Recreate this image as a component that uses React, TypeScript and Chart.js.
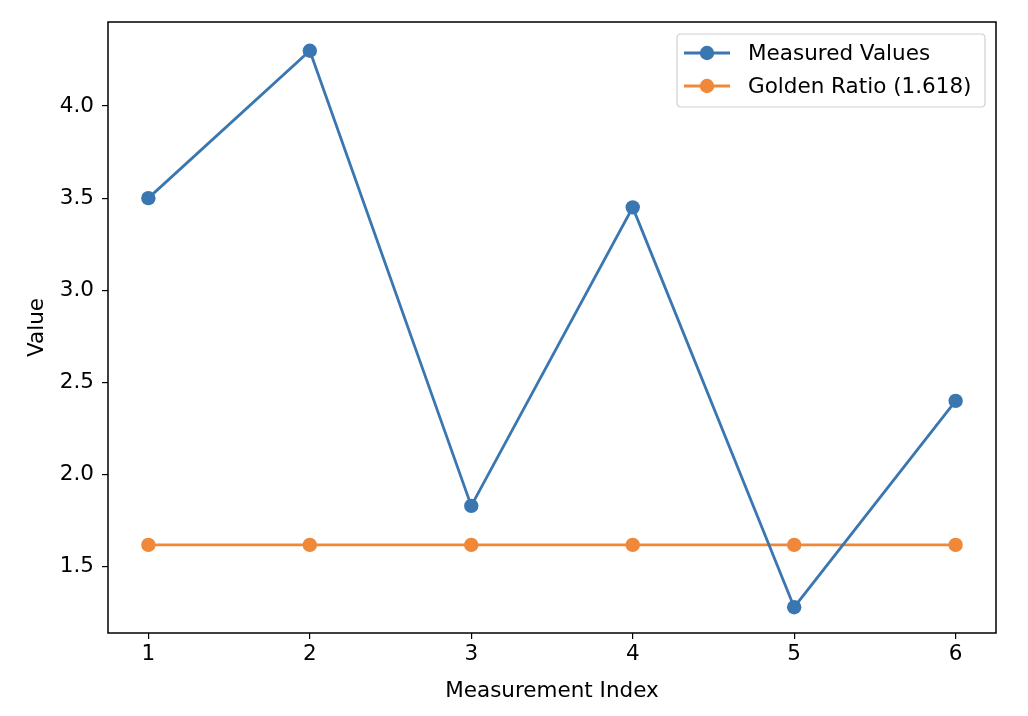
import React, { useEffect, useRef } from "react";
import { Chart, registerables } from "chart.js";

Chart.register(...registerables);

const measurementIndex = [1, 2, 3, 4, 5, 6];
const measuredValues = [3.5, 4.3, 1.83, 3.45, 1.28, 2.4];
const goldenRatio = [1.618, 1.618, 1.618, 1.618, 1.618, 1.618];
const yTicks = [1.5, 2.0, 2.5, 3.0, 3.5, 4.0];
const seriesLabels = ["Measured Values", "Golden Ratio (1.618)"];
const seriesColors = ["#3a77b1", "#ef8839"];

const FONT = "'DejaVu Sans', sans-serif";
const FS = 21.5;
const MR = 7.2;
const LW = 2.8;

const framePlugin = {
  id: "frame",
  afterDraw(chart: any) {
    const { ctx, chartArea } = chart;
    ctx.save();
    ctx.strokeStyle = "#000";
    ctx.lineWidth = 1.5;
    ctx.strokeRect(chartArea.left, chartArea.top, chartArea.right - chartArea.left, chartArea.bottom - chartArea.top);
    ctx.restore();
  },
};

const legendPlugin = {
  id: "mplLegend",
  afterDraw(chart: any) {
    const { ctx } = chart;
    const x0 = 677, y0 = 34, w = 308, h = 73, r = 4;
    ctx.save();
    ctx.fillStyle = "rgba(255,255,255,0.8)";
    ctx.strokeStyle = "#d0d0d0";
    ctx.lineWidth = 1.2;
    ctx.beginPath();
    ctx.moveTo(x0 + r, y0);
    ctx.lineTo(x0 + w - r, y0);
    ctx.quadraticCurveTo(x0 + w, y0, x0 + w, y0 + r);
    ctx.lineTo(x0 + w, y0 + h - r);
    ctx.quadraticCurveTo(x0 + w, y0 + h, x0 + w - r, y0 + h);
    ctx.lineTo(x0 + r, y0 + h);
    ctx.quadraticCurveTo(x0, y0 + h, x0, y0 + h - r);
    ctx.lineTo(x0, y0 + r);
    ctx.quadraticCurveTo(x0, y0, x0 + r, y0);
    ctx.closePath();
    ctx.fill();
    ctx.stroke();
    chart.data.datasets.forEach((ds: any, i: number) => {
      const cy = 53 + i * 33;
      ctx.strokeStyle = ds.borderColor;
      ctx.lineWidth = LW;
      ctx.beginPath();
      ctx.moveTo(684, cy);
      ctx.lineTo(730, cy);
      ctx.stroke();
      ctx.fillStyle = ds.borderColor;
      ctx.beginPath();
      ctx.arc(707, cy, MR, 0, Math.PI * 2);
      ctx.fill();
      ctx.fillStyle = "#000";
      ctx.font = `${FS}px ${FONT}`;
      ctx.textBaseline = "middle";
      ctx.textAlign = "left";
      ctx.fillText(ds.label, 748, cy + 1);
    });
    ctx.restore();
  },
};

export default function App() {
  const ref = useRef<HTMLCanvasElement>(null);
  useEffect(() => {
    if (!ref.current) return;
    const mk = (vals: number[]) => measurementIndex.map((x, i) => ({ x, y: vals[i] }));
    const chart = new Chart(ref.current, {
      type: "line",
      data: {
        datasets: [
          {
            label: seriesLabels[0],
            data: mk(measuredValues),
            borderColor: seriesColors[0],
            backgroundColor: seriesColors[0],
            borderWidth: LW,
            pointRadius: MR,
            pointHoverRadius: MR,
            pointBorderWidth: 0,
            tension: 0,
          },
          {
            label: seriesLabels[1],
            data: mk(goldenRatio),
            borderColor: seriesColors[1],
            backgroundColor: seriesColors[1],
            borderWidth: LW,
            pointRadius: MR,
            pointHoverRadius: MR,
            pointBorderWidth: 0,
            tension: 0,
          },
        ],
      },
      options: {
        responsive: false,
        animation: false,
        layout: { padding: { left: 0, right: 32, top: 22, bottom: 0 } },
        plugins: { legend: { display: false }, tooltip: { enabled: false }, title: { display: false } },
        scales: {
          x: {
            type: "linear",
            min: 0.75,
            max: 6.25,
            afterBuildTicks: (s: any) => {
              s.ticks = measurementIndex.map((v) => ({ value: v }));
            },
            afterFit: (s: any) => {
              s.height = 83;
            },
            grid: { drawOnChartArea: false, drawTicks: true, tickLength: 6, color: "#000", lineWidth: 1.2 },
            border: { display: false },
            ticks: { color: "#000", font: { family: FONT, size: FS }, padding: 3, callback: (v: any) => String(v) },
            title: { display: true, text: "Measurement Index", color: "#000", font: { family: FONT, size: FS }, padding: { top: 4, bottom: 12 } },
          },
          y: {
            type: "linear",
            min: 1.14,
            max: 4.456,
            afterBuildTicks: (s: any) => {
              s.ticks = yTicks.map((v) => ({ value: v }));
            },
            afterFit: (s: any) => {
              s.width = 108;
            },
            grid: { drawOnChartArea: false, drawTicks: true, tickLength: 6, color: "#000", lineWidth: 1.2 },
            border: { display: false },
            ticks: { color: "#000", font: { family: FONT, size: FS }, padding: 8, callback: (v: any) => Number(v).toFixed(1) },
            title: { display: true, text: "Value", color: "#000", font: { family: FONT, size: FS }, padding: { top: 25, bottom: 8 } },
          },
        },
      },
      plugins: [framePlugin, legendPlugin],
    });
    return () => chart.destroy();
  }, []);
  return (
    <div style={{ position: "fixed", left: 0, top: 0, width: 1028, height: 716, background: "#fff" }}>
      <canvas ref={ref} width={1028} height={716} style={{ display: "block" }} />
    </div>
  );
}
